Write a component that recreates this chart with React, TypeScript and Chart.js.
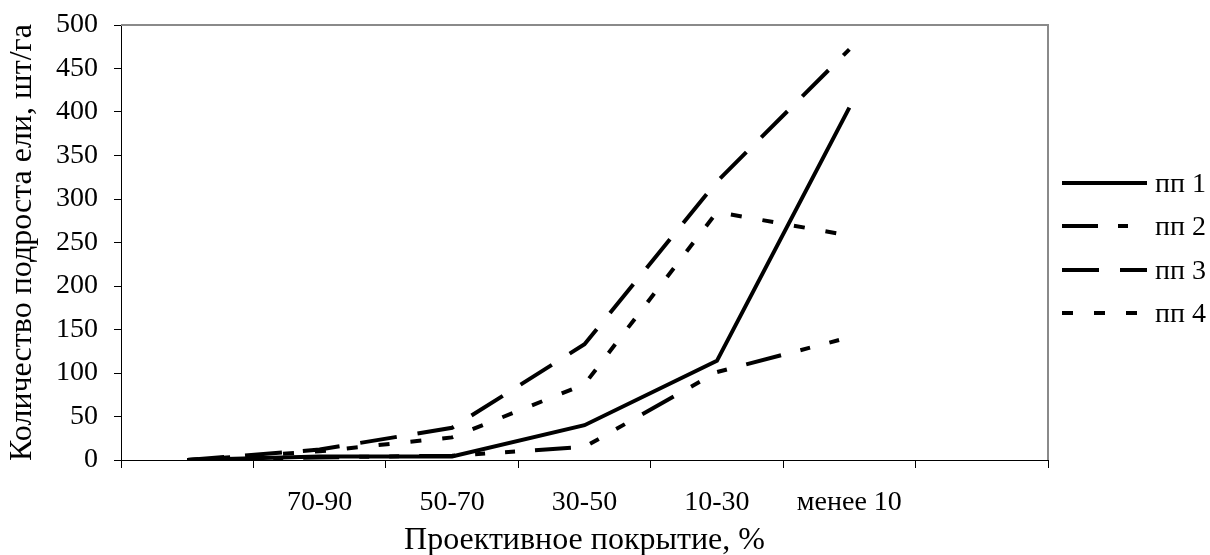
import React, { useEffect, useRef } from 'react';
import { Chart, registerables } from 'chart.js';

Chart.register(...registerables);

// ---- data ----
const categories = ['', '70-90', '50-70', '30-50', '10-30', 'менее 10', ''];
const seriesNames = ['пп 1', 'пп 2', 'пп 3', 'пп 4'];
const pp1 = [0, 4, 4, 40, 114, 405, null];
const pp2 = [0, 3, 5, 15, 101, 141, null];
const pp3 = [0, 12, 37, 133, 320, 472, null];
const pp4 = [0, 10, 26, 87, 285, 258, null];
const yMin = 0;
const yMax = 500;
const yStep = 50;
const xTitle = 'Проективное покрытие, %';
const yTitle = 'Количество подроста ели, шт/га';

// ---- styles ----
const FONT = '"Liberation Serif", "Times New Roman", serif';
const dashStyles: number[][] = [[], [36, 20, 10, 20, 10, 20], [37, 21], [11, 21]];
const seriesData = [pp1, pp2, pp3, pp4];

const frameAndLegend = {
  id: 'frameAndLegend',
  beforeDatasetsDraw(chart: any) {
    const { ctx, chartArea } = chart;
    ctx.save();
    ctx.strokeStyle = '#8a8a8a';
    ctx.lineWidth = 2;
    ctx.beginPath();
    ctx.moveTo(chartArea.left, chartArea.top);
    ctx.lineTo(chartArea.right, chartArea.top);
    ctx.lineTo(chartArea.right, chartArea.bottom);
    ctx.stroke();
    ctx.restore();
  },
  afterDraw(chart: any) {
    const { ctx, chartArea } = chart;
    const x0 = chartArea.right + 14;
    const x1 = x0 + 85;
    const tx = x1 + 8;
    const yStart = 183;
    const gap = 43.3;
    chart.data.datasets.forEach((ds: any, i: number) => {
      const y = Math.round(yStart + i * gap);
      ctx.save();
      ctx.strokeStyle = '#000';
      ctx.lineWidth = 4;
      ctx.lineCap = 'butt';
      ctx.setLineDash(ds.borderDash || []);
      ctx.beginPath();
      ctx.moveTo(x0, y);
      ctx.lineTo(x1, y);
      ctx.stroke();
      ctx.setLineDash([]);
      ctx.fillStyle = '#000';
      ctx.font = `28px ${FONT}`;
      ctx.textBaseline = 'middle';
      ctx.textAlign = 'left';
      ctx.fillText(ds.label, tx, y + 2);
      ctx.restore();
    });
  },
};

export default function App() {
  const canvasRef = useRef<HTMLCanvasElement | null>(null);

  useEffect(() => {
    document.body.style.margin = '0';
    const canvas = canvasRef.current;
    if (!canvas) return;
    const chart = new Chart(canvas, {
      type: 'line',
      data: {
        labels: categories,
        datasets: seriesNames.map((name, i) => ({
          label: name,
          data: seriesData[i],
          borderColor: '#000',
          backgroundColor: '#000',
          borderWidth: 4,
          borderDash: dashStyles[i],
          borderCapStyle: 'butt',
          borderJoinStyle: 'miter',
          pointRadius: 0,
          pointHoverRadius: 0,
          tension: 0,
          fill: false,
        })),
      },
      options: {
        responsive: false,
        animation: false,
        devicePixelRatio: 1,
        events: [],
        layout: { padding: { left: 0, right: 162, top: 25, bottom: 0 } },
        plugins: {
          legend: { display: false },
          tooltip: { enabled: false },
          title: { display: false },
        },
        scales: {
          x: {
            type: 'category',
            offset: true,
            grid: {
              offset: true,
              drawOnChartArea: false,
              drawTicks: true,
              tickLength: 8,
              color: '#000',
            },
            border: { display: true, color: '#000', width: 1 },
            ticks: {
              color: '#000',
              font: { family: FONT, size: 28 },
              padding: 18,
              maxRotation: 0,
              autoSkip: false,
            },
            title: {
              display: true,
              text: xTitle,
              color: '#000',
              font: { family: FONT, size: 32, lineHeight: 1 },
              padding: { top: 0, bottom: -2 },
            },
            afterFit: (scale: any) => {
              scale.height = 95;
              scale.paddingLeft = 0;
              scale.paddingRight = 0;
            },
          },
          y: {
            min: yMin,
            max: yMax,
            grid: {
              drawOnChartArea: false,
              drawTicks: true,
              tickLength: 7,
              color: '#000',
            },
            border: { display: true, color: '#000', width: 1 },
            ticks: {
              stepSize: yStep,
              color: '#000',
              font: { family: FONT, size: 28 },
              padding: 16,
            },
            title: {
              display: true,
              text: yTitle,
              color: '#000',
              font: { family: FONT, size: 32, lineHeight: 1 },
              padding: { top: 7, bottom: 0 },
            },
            afterFit: (scale: any) => {
              scale.width = 121;
              scale.paddingTop = 0;
              scale.paddingBottom = 0;
            },
          },
        },
      },
      plugins: [frameAndLegend],
    });
    return () => chart.destroy();
  }, []);

  return (
    <div style={{ width: 1210, height: 555, background: '#fff' }}>
      <canvas ref={canvasRef} width={1210} height={555} style={{ display: 'block' }} />
    </div>
  );
}
